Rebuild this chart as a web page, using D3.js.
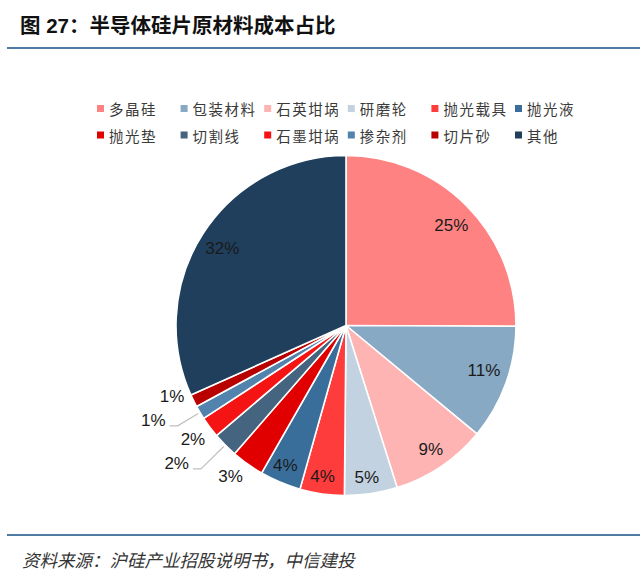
<!DOCTYPE html>
<html>
<head>
<meta charset="utf-8">
<script src="https://cdn.jsdelivr.net/npm/d3@7/dist/d3.min.js"></script>
<style>
  html, body { margin: 0; padding: 0; background: #fff; }
  svg { display: block; }
</style>
</head>
<body>
<script>
// ---- data ----
const categories = ["多晶硅","包装材料","石英坩埚","研磨轮","抛光载具","抛光液","抛光垫","切割线","石墨坩埚","掺杂剂","切片砂","其他"];
const values = [25.0, 10.9, 9.1, 5.0, 4.2, 3.9, 3.1, 2.4, 2.0, 1.3, 1.2, 31.6];
const valueLabels = ["25%","11%","9%","5%","4%","4%","3%","2%","2%","1%","1%","32%"];
const colors = ["#FF8282","#87A9C4","#FFB4B4","#C3D2E0","#FF3C3C","#3A6E9A","#E00000","#44647F","#F41414","#5283AC","#B80000","#1F3F5C"];
const titleText = "图 27：半导体硅片原材料成本占比";
const sourceText = "资料来源：沪硅产业招股说明书，中信建投";

// ---- label layout (not data) ----
const labelModes  = ["in","in","in","in","in","in","out","leader","out","leader","out","in"];
const labelRadius = [145, 145, 150, 153, 153, 153, 190, 204, 191, 196, 188, 146];
const labelNudge  = [1.4, -2, -0.5, 0.7, 0.7, 0.6, 2, 0, 0, 0, 4, -0.9]; // degrees

// ---- layout ----
const W = 640, H = 573;
const cx = 346, cy = 325.5, R = 170;

const svg = d3.select("body").append("svg").attr("width", W).attr("height", H);

// title
svg.append("text")
  .attr("x", 20).attr("y", 33)
  .attr("font-family", "'Liberation Sans', 'Noto Sans CJK SC', sans-serif")
  .attr("font-size", 20.5).attr("font-weight", "bold").attr("fill", "#111")
  .text(titleText);
svg.append("line").attr("x1", 7).attr("x2", W).attr("y1", 48).attr("y2", 48)
  .attr("stroke", "#4F7BA3").attr("stroke-width", 2);

// bottom rule and source
svg.append("line").attr("x1", 7).attr("x2", W).attr("y1", 535).attr("y2", 535)
  .attr("stroke", "#4F7BA3").attr("stroke-width", 2);
svg.append("text")
  .attr("x", 22).attr("y", 559)
  .attr("dominant-baseline", "central")
  .attr("font-family", "'Noto Sans CJK SC', sans-serif")
  .attr("font-size", 17.5).attr("font-style", "italic").attr("fill", "#333")
  .text(sourceText);

// legend
const data = categories.map((c, i) => ({
  name: c, value: values[i], label: valueLabels[i], color: colors[i],
  mode: labelModes[i], r: labelRadius[i], nudge: labelNudge[i]
}));
const perRow = 6;
const colX = d3.scaleLinear().domain([0, perRow - 1]).range([97, 515]);
const rowY = d3.scaleLinear().domain([0, 1]).range([108.5, 135]);
const leg = svg.append("g").selectAll("g").data(data).join("g")
  .attr("transform", (d, i) => `translate(${colX(i % perRow)},${rowY(Math.floor(i / perRow))})`);
leg.append("rect").attr("x", 0).attr("y", -3.5).attr("width", 7).attr("height", 7).attr("fill", d => d.color);
leg.append("text").attr("x", 12).attr("y", 0)
  .attr("dominant-baseline", "central")
  .attr("font-family", "'Noto Sans CJK SC', sans-serif")
  .attr("font-size", 14.5).attr("letter-spacing", 1.5).attr("fill", "#3a3a3a")
  .text(d => d.name);

// pie
const g = svg.append("g").attr("transform", `translate(${cx},${cy})`);
const pie = d3.pie().sort(null).value(d => d.value);
const arcs = pie(data);
const arc = d3.arc().innerRadius(0).outerRadius(R);
g.selectAll("path").data(arcs).join("path")
  .attr("d", arc)
  .attr("fill", d => d.data.color)
  .attr("stroke", "#fff").attr("stroke-width", 1.6).attr("stroke-linejoin", "round");

const pos = (r, a) => [r * Math.sin(a), -r * Math.cos(a)];
const mid = d => (d.startAngle + d.endAngle) / 2;
const labelFont = "'Liberation Sans', Arial, sans-serif";
const labelSize = 17;

arcs.forEach(d => {
  const a = mid(d) + d.data.nudge * Math.PI / 180;
  if (d.data.mode === "in" || d.data.mode === "out") {
    const p = pos(d.data.r, a);
    g.append("text").attr("x", p[0]).attr("y", p[1])
      .attr("text-anchor", "middle").attr("dominant-baseline", "central")
      .attr("font-family", labelFont).attr("font-size", labelSize).attr("fill", "#1a1a1a")
      .text(d.data.label);
  } else {
    const s = pos(R + 2, a), e = pos(d.data.r, a);
    const end = [e[0] - 8, e[1]];
    g.append("polyline")
      .attr("points", [s, e, end].map(p => p.join(",")).join(" "))
      .attr("fill", "none").attr("stroke", "#BFBFBF").attr("stroke-width", 1.2);
    g.append("text").attr("x", end[0] - 4).attr("y", end[1] - 5)
      .attr("text-anchor", "end").attr("dominant-baseline", "central")
      .attr("font-family", labelFont).attr("font-size", labelSize).attr("fill", "#1a1a1a")
      .text(d.data.label);
  }
});
</script>
</body>
</html>
